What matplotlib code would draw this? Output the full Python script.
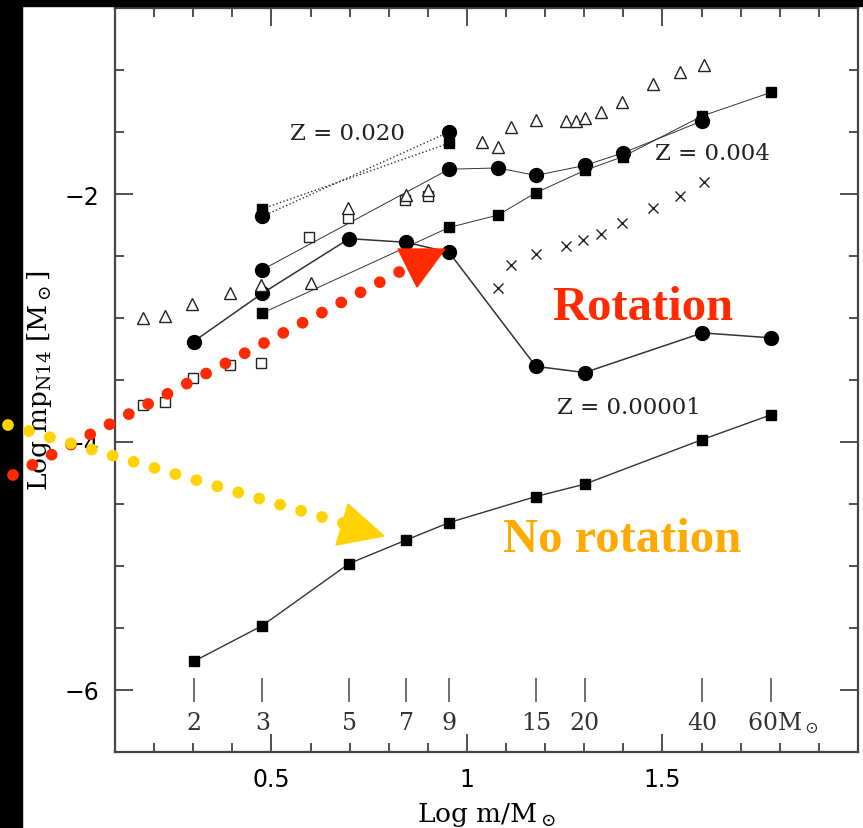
import numpy as np
import matplotlib.pyplot as plt
from matplotlib.lines import Line2D
from matplotlib.patches import Polygon, Rectangle
from matplotlib.ticker import FixedLocator, MultipleLocator

plt.rcParams['mathtext.fontset'] = 'dejavuserif'

# ---- data (log of primary N14 yield vs log mass) ----
masses_all = [2, 3, 5, 7, 9, 15, 20, 40, 60]
masses_z004_circ = [3, 9, 12, 15, 20, 25, 40]
masses_z004_sq = [3, 9, 12, 15, 20, 25, 40, 60]
masses_z020 = [3, 9]

# Z = 0.00001, no rotation (filled squares)
z1e5_norot = [-5.77, -5.48, -4.98, -4.79, -4.65, -4.44, -4.34, -3.98, -3.78]
# Z = 0.00001, rotation (filled circles, thicker line)
z1e5_rot = [-3.19, -2.80, -2.36, -2.39, -2.47, -3.39, -3.44, -3.12, -3.16]
# Z = 0.004
z004_circ = [-2.61, -1.80, -1.79, -1.85, -1.77, -1.67, -1.41]
z004_sq = [-2.96, -2.27, -2.17, -1.99, -1.81, -1.70, -1.37, -1.18]
# Z = 0.020 (dotted)
z020_circ = [-2.18, -1.50]
z020_sq = [-2.12, -1.59]

# other models (open triangles, open squares, crosses)
tri_logm = [0.172, 0.228, 0.297, 0.395, 0.474, 0.600, 0.695, 0.844, 0.900,
            1.038, 1.079, 1.113, 1.177, 1.254, 1.279, 1.303, 1.344, 1.397,
            1.477, 1.544, 1.605]
tri_logn = [-3.00, -2.98, -2.89, -2.80, -2.73, -2.72, -2.11, -2.01, -1.97,
            -1.58, -1.62, -1.46, -1.40, -1.41, -1.41, -1.39, -1.34, -1.26,
            -1.11, -1.02, -0.96]
osq_logm = [0.172, 0.228, 0.300, 0.395, 0.474, 0.597, 0.695, 0.841, 0.900]
osq_logn = [-3.70, -3.68, -3.48, -3.38, -3.36, -2.35, -2.19, -2.05, -2.02]
cross_logm = [1.079, 1.113, 1.177, 1.254, 1.297, 1.344, 1.397, 1.477, 1.544, 1.605]
cross_logn = [-2.76, -2.57, -2.48, -2.42, -2.37, -2.32, -2.23, -2.11, -2.02, -1.90]

mass_tick_labels = ['2', '3', '5', '7', '9', '15', '20', '40', '60']

W, H = 863, 829
fig = plt.figure(figsize=(W / 100, H / 100), dpi=100)
ax = fig.add_axes([115 / W, 1 - 753 / H, (858 - 115) / W, (753 - 9) / H])

lc = '#333333'
ax.plot(np.log10(masses_z020), z020_circ, ls=':', color=lc, lw=1.0,
        marker='o', ms=10, mfc='k', mec='k')
ax.plot(np.log10(masses_z020), z020_sq, ls=':', color=lc, lw=1.0,
        marker='s', ms=6.5, mfc='k', mec='k')
ax.plot(np.log10(masses_z004_circ), z004_circ, '-', color=lc, lw=0.7,
        marker='o', ms=10, mfc='k', mec='k')
ax.plot(np.log10(masses_z004_sq), z004_sq, '-', color=lc, lw=0.7,
        marker='s', ms=6.5, mfc='k', mec='k')
ax.plot(np.log10(masses_all), z1e5_rot, '-', color=lc, lw=1.1,
        marker='o', ms=10, mfc='k', mec='k')
ax.plot(np.log10(masses_all), z1e5_norot, '-', color=lc, lw=1.0,
        marker='s', ms=6.5, mfc='k', mec='k')

ax.plot(osq_logm, osq_logn, ls='none', marker='s', ms=7.5, mfc='white', mec='#222', mew=1.0)
ax.plot(tri_logm, tri_logn, ls='none', marker='^', ms=9, mfc='white', mec='#222', mew=1.0)
ax.plot(cross_logm, cross_logn, ls='none', marker='x', ms=7, color='#222', mew=1.0)

# mass markers along the bottom
logm_ticks = np.log10(masses_all)
ax.vlines(logm_ticks, -6.10, -5.90, color='#555555', lw=1.2)
for lm, lab in zip(logm_ticks[:-1], mass_tick_labels[:-1]):
    ax.text(lm, -6.26, lab, ha='center', va='center', fontsize=17,
            family='DejaVu Serif', color='#333')
ax.text(logm_ticks[-1] - 0.062, -6.26, mass_tick_labels[-1] + r'M$_\odot$',
        ha='left', va='center', fontsize=17, family='DejaVu Serif', color='#333')

# labels of the metallicity groups
zkw = dict(fontsize=16.5, family='DejaVu Serif', color='#222', va='center', ha='center')
ax.text(0.694, -1.51, 'Z = 0.020', **zkw)
ax.text(1.629, -1.67, 'Z = 0.004', **zkw)
ax.text(1.414, -3.72, 'Z = 0.00001', **zkw)

# axes
ax.set_xlim(0.1, 2.0)
ax.set_ylim(-6.5, -0.5)
ax.xaxis.set_major_locator(FixedLocator([0.5, 1.0, 1.5]))
ax.xaxis.set_minor_locator(MultipleLocator(0.1))
ax.set_xticklabels(['0.5', '1', '1.5'])
ax.yaxis.set_major_locator(FixedLocator([-6, -4, -2]))
ax.yaxis.set_minor_locator(MultipleLocator(0.5))
ax.set_yticklabels(['\u22126', '\u22124', '\u22122'])
ax.tick_params(which='both', direction='in', top=True, right=True, width=1.2, color='#333')
ax.tick_params(which='major', length=13, labelsize=17, pad=11)
ax.tick_params(which='minor', length=6.5)
for s in ax.spines.values():
    s.set_linewidth(1.6)
    s.set_color('#444')

ax.set_xlabel(r'Log m/M$_\odot$', fontsize=19, family='DejaVu Serif', labelpad=6)
ax.set_ylabel(r'Log mp$_{\rm N14}$ [M$_\odot$]', fontsize=19, family='DejaVu Serif', labelpad=8)

# black frame bands of the slide
fig.add_artist(Rectangle((0, 0), 22 / W, 1, color='black', transform=fig.transFigure, zorder=1))
fig.add_artist(Rectangle((0, 1 - 7 / H), 1, 7 / H, color='black', transform=fig.transFigure, zorder=1))

# overlay arrows (pixel positions -> figure fraction)
def fx(px):
    return px / W

def fy(py):
    return 1 - py / H

red = '#FF2A00'
yellow = '#FFD200'
dot_lw = 8.5
dot_style = (0, (0.001, 21.8 / (dot_lw * 100 / 72)))
fig.add_artist(Line2D([fx(13), fx(403)], [fy(476), fy(271)], transform=fig.transFigure,
                      color=red, lw=dot_lw, linestyle=dot_style, dash_capstyle='round', zorder=5))
fig.add_artist(Line2D([fx(8), fx(346)], [fy(426), fy(525)], transform=fig.transFigure,
                      color=yellow, lw=dot_lw, linestyle=dot_style, dash_capstyle='round', zorder=5))
fig.add_artist(Polygon([[fx(398), fy(250)], [fx(445), fy(250)], [fx(417), fy(288)]],
                       closed=True, transform=fig.transFigure, color=red, zorder=6))
fig.add_artist(Polygon([[fx(348), fy(505)], [fx(384), fy(537)], [fx(336), fy(546)]],
                       closed=True, transform=fig.transFigure, color=yellow, zorder=6))

fig.text(fx(643), fy(320), 'Rotation', color=red, fontsize=35, fontweight='bold',
         family='Liberation Serif', ha='center', va='baseline', zorder=6)
fig.text(fx(622), fy(552), 'No rotation', color='#FFAA00', fontsize=35, fontweight='bold',
         family='Liberation Serif', ha='center', va='baseline', zorder=6)

plt.savefig('out.png', dpi=100)
